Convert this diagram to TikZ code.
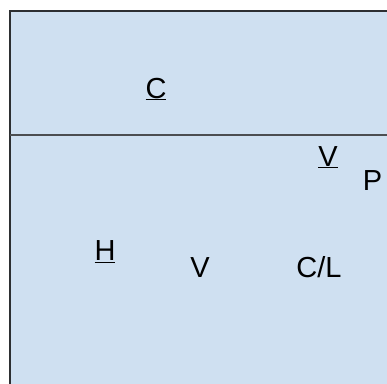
\documentclass[tikz,border=0pt]{standalone}
\usepackage{fontspec}
\setmainfont{Liberation Sans}
\usetikzlibrary{positioning}
\definecolor{pane}{RGB}{207,224,241}
\definecolor{edge}{RGB}{45,47,50}

\begin{document}
\begin{tikzpicture}[x=1pt,y=-1pt,every node/.style={font=\fontsize{29}{34}\selectfont,anchor=base,inner sep=0pt}]
\clip (0,0) rectangle (387,383);
\fill[white] (0,0) rectangle (387,383);
\fill[pane] (9.5,10.5) rectangle (400,400);
\draw[edge,line width=2pt] (9.5,400) |- (400,10.5);
\coordinate (split-l) at (9.5,135);
\coordinate (split-r) at (400,135);
\draw[edge!85,line width=1.6pt] (split-l)--(split-r);
\node (cls) at (156,98) {\underline{C}};
\node (vtop) at (328,166) {\underline{V}};
\node (p) at (372.5,190.5) {P};
\node (h) at (105,260.5) {\underline{H}};
\node (v) at (200,277) {V};
\node (cl) at (319,277) {C/L};
\end{tikzpicture}
\end{document}
